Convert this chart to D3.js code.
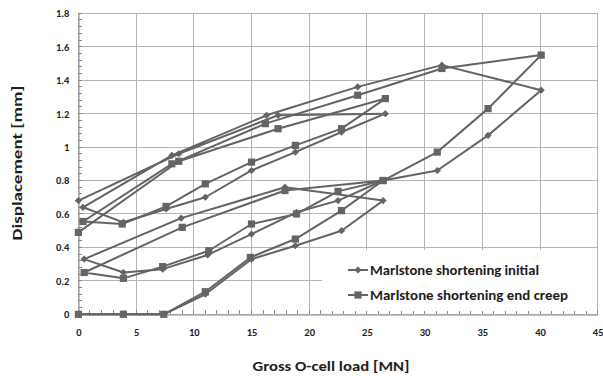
<!DOCTYPE html>
<html><head><meta charset="utf-8">
<script src="https://cdn.jsdelivr.net/npm/d3@7"></script>
<style>
html,body{margin:0;padding:0;background:#fff;}
svg{display:block;font-family:Carlito,Lato,"Liberation Sans",sans-serif;}
</style></head>
<body><svg id="c" width="603" height="376"></svg>
<script>
// ---- data ----
const xTicks = [0,5,10,15,20,25,30,35,40,45];
const yTicks = [0,0.2,0.4,0.6,0.8,1,1.2,1.4,1.6,1.8];
const yTickLabels = ["0","0.2","0.4","0.6","0.8","1","1.2","1.4","1.6","1.8"];
const seriesNames = ["Marlstone shortening initial","Marlstone shortening end creep"];
const initialLoad = [0,3.9,7.4,11.0,15.0,18.8,22.8,26.4,17.9,8.9,0.5,3.9,7.3,11.2,15.0,18.9,22.5,26.4,31.1,35.5,40.1,31.5,24.2,16.3,8.1,0.4,3.9,7.6,11.0,15.0,18.8,22.8,26.6,17.3,8.7,0];
const initialDisp = [0,0,0,0.12,0.33,0.41,0.50,0.68,0.76,0.575,0.33,0.25,0.27,0.355,0.48,0.61,0.68,0.80,0.86,1.07,1.34,1.49,1.36,1.19,0.95,0.64,0.55,0.63,0.70,0.86,0.97,1.09,1.20,1.19,0.96,0.68];
const creepLoad = [0,3.9,7.4,11.0,14.9,18.8,22.8,26.4,17.9,9.0,0.5,3.9,7.3,11.3,15.0,18.9,22.5,26.4,31.1,35.5,40.1,31.5,24.2,16.2,8.1,0.4,3.8,7.6,11.0,15.0,18.8,22.8,26.6,17.3,8.7,0];
const creepDisp = [0,0,0,0.135,0.34,0.45,0.62,0.80,0.74,0.52,0.25,0.215,0.285,0.38,0.54,0.60,0.735,0.80,0.97,1.23,1.55,1.47,1.31,1.14,0.90,0.555,0.54,0.645,0.78,0.91,1.01,1.11,1.29,1.11,0.915,0.49];

// ---- layout ----
const svg = d3.select("#c");
const L = 78.4, T = 13.3, W = 519.3, H = 301;
const x = d3.scaleLinear().domain([0,45]).range([L, L+W]);
const y = d3.scaleLinear().domain([0,1.8]).range([T+H, T]);
const serCol = "#646464", gridCol = "#b4b4b4", axisCol = "#8a8a8a", txtCol = "#1e1e1e";

// gridlines
svg.append("g").selectAll("line").data(yTicks.slice(1)).join("line")
  .attr("x1", L).attr("x2", L+W).attr("y1", d=>y(d)).attr("y2", d=>y(d))
  .attr("stroke", gridCol).attr("stroke-width", 1).attr("shape-rendering","crispEdges");
svg.append("g").selectAll("line").data(xTicks.slice(1)).join("line")
  .attr("x1", d=>x(d)).attr("x2", d=>x(d)).attr("y1", T).attr("y2", T+H)
  .attr("stroke", gridCol).attr("stroke-width", 1).attr("shape-rendering","crispEdges");

// minor ticks
const xMinor = d3.range(0, 45.01, 1);
const yMinor = d3.range(0, 1.801, 0.04);
svg.append("g").selectAll("line").data(xMinor).join("line")
  .attr("x1", d=>x(d)).attr("x2", d=>x(d)).attr("y1", T+H).attr("y2", T+H-4)
  .attr("stroke", axisCol).attr("shape-rendering","crispEdges");
svg.append("g").selectAll("line").data(yMinor).join("line")
  .attr("x1", L).attr("x2", L+4).attr("y1", d=>y(d)).attr("y2", d=>y(d))
  .attr("stroke", axisCol).attr("shape-rendering","crispEdges");

// axes
const xAxis = svg.append("g").attr("transform", `translate(0,${T+H})`)
  .call(d3.axisBottom(x).tickValues(xTicks).tickSize(0).tickPadding(14).tickFormat(d3.format("d")));
const yAxis = svg.append("g").attr("transform", `translate(${L},0)`)
  .call(d3.axisLeft(y).tickValues(yTicks).tickSize(0).tickPadding(9).tickFormat((d,i)=>yTickLabels[i]));
[xAxis,yAxis].forEach(a=>{
  a.select(".domain").attr("stroke", axisCol).attr("stroke-width",1.3);
  a.selectAll("text").attr("fill", txtCol).attr("font-size", 10.5).attr("font-weight","bold")
   .attr("font-family","Carlito,Lato,sans-serif");
});

// series
const diamond = r => `M0,${-r}L${r},0L0,${r}L${-r},0Z`;
const square = r => `M${-r},${-r}H${r}V${r}H${-r}Z`;
const line = d3.line().x(d=>x(d[0])).y(d=>y(d[1]));
const ser = [
  {pts: initialLoad.map((v,i)=>[v, initialDisp[i]]), shape: diamond(3.6)},
  {pts: creepLoad.map((v,i)=>[v, creepDisp[i]]), shape: square(3.6)}
];
ser.forEach(s=>{
  svg.append("path").attr("d", line(s.pts)).attr("fill","none")
    .attr("stroke", serCol).attr("stroke-width", 2).attr("stroke-linejoin","round");
});
ser.forEach(s=>{
  svg.append("g").selectAll("path").data(s.pts).join("path")
    .attr("d", s.shape).attr("transform", d=>`translate(${x(d[0])},${y(d[1])})`)
    .attr("fill", serCol);
});

// legend
const legW = [169, 198];
const lg = svg.append("g");
lg.append("rect").attr("x", 322).attr("y", 250).attr("width", 275).attr("height", 61).attr("fill","#fff");
seriesNames.forEach((n,i)=>{
  const yy = 270 + i*25;
  lg.append("line").attr("x1", 348).attr("x2", 368).attr("y1", yy).attr("y2", yy)
    .attr("stroke", serCol).attr("stroke-width", 2);
  lg.append("path").attr("d", ser[i].shape).attr("transform", `translate(358,${yy})`).attr("fill", serCol);
  lg.append("text").attr("x", 370).attr("y", yy).attr("dy","0.35em")
    .attr("fill", txtCol).attr("font-size", 14).attr("font-weight","bold")
    .attr("textLength", legW[i]).attr("lengthAdjust","spacingAndGlyphs").text(n);
});

// titles
svg.append("text").attr("x", 331).attr("y", 366).attr("text-anchor","middle").attr("dy","0.35em")
  .attr("fill", txtCol).attr("font-size", 14).attr("font-weight","bold")
  .attr("textLength", 157).attr("lengthAdjust","spacingAndGlyphs").text("Gross O-cell load [MN]");
svg.append("text").attr("transform","translate(17,163) rotate(-90)").attr("text-anchor","middle").attr("dy","0.35em")
  .attr("fill", txtCol).attr("font-size", 14).attr("font-weight","bold")
  .attr("textLength", 155).attr("lengthAdjust","spacingAndGlyphs").text("Displacement [mm]");
</script></body></html>
